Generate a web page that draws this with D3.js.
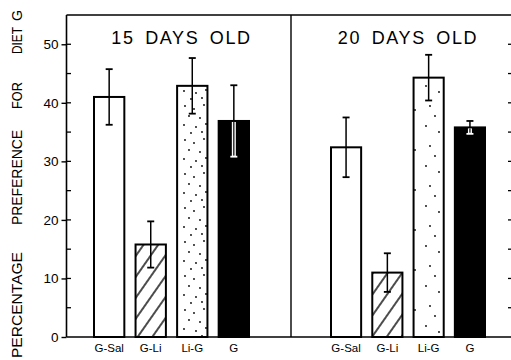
<!DOCTYPE html>
<html>
<head>
<meta charset="utf-8">
<script src="https://cdn.jsdelivr.net/npm/d3@7"></script>
<style>
  html, body { margin: 0; padding: 0; background: #fff; }
  svg { display: block; }
  text { font-family: "Liberation Sans", Arial, sans-serif; fill: #000; }
</style>
</head>
<body>
<svg id="chart" width="511" height="360"></svg>
<script>
// Diet groups and panel titles
const categories = ["G-Sal", "G-Li", "Li-G", "G"];
const panelTitles = ["15 DAYS OLD", "20 DAYS OLD"];

// Mean percentage preference for diet G and error-bar half widths
const means15 = [41.0, 15.8, 42.9, 36.9];
const errors15 = [4.75, 3.95, 4.75, 6.1];
const means20 = [32.4, 11.0, 44.3, 35.8];
const errors20 = [5.1, 3.3, 3.9, 1.1];

const majorTicks = [0, 10, 20, 30, 40, 50];
const minorTicks = [5, 10, 15, 20, 25, 30, 35, 40, 45, 50];
const yTitleWords = ["PERCENTAGE", "PREFERENCE", "FOR", "DIET", "G"];

const svg = d3.select("#chart");
const frame = { left: 66.5, right: 513, top: 15, bottom: 337, divider: 291 };

const y = d3.scaleLinear().domain([0, 55]).range([frame.bottom, frame.top]);

// Fill patterns: diagonal hatching and sparse stipple
const defs = svg.append("defs");
const hatch = defs.append("pattern")
  .attr("id", "hatch").attr("patternUnits", "userSpaceOnUse")
  .attr("width", 12).attr("height", 12)
  .attr("patternTransform", "rotate(35)");
hatch.append("rect").attr("width", 12).attr("height", 12).attr("fill", "#fff");
hatch.append("line").attr("x1", 6).attr("x2", 6).attr("y1", 0).attr("y2", 12)
  .attr("stroke", "#000").attr("stroke-width", 1.4);

function stipple(id, w, h, dots) {
  const p = defs.append("pattern").attr("id", id)
    .attr("patternUnits", "userSpaceOnUse").attr("width", w).attr("height", h);
  p.append("rect").attr("width", w).attr("height", h).attr("fill", "#fff");
  dots.forEach(([cx, cy]) => p.append("circle").attr("cx", cx).attr("cy", cy)
    .attr("r", 0.9).attr("fill", "#000"));
}
stipple("dots1", 30, 34, [[5,4],[14,7],[24,3],[9,14],[20,16],[4,23],[16,25],[26,22],[11,31],[22,30]]);
stipple("dots2", 30, 40, [[6,6],[19,12],[25,30],[10,26],[15,36]]);

const fills = [["#fff", "url(#hatch)", "url(#dots1)", "#000"],
               ["#fff", "url(#hatch)", "url(#dots2)", "#000"]];

const panels = [
  { title: panelTitles[0], means: means15, errors: errors15, range: [94, 249], titleX: 181.5 },
  { title: panelTitles[1], means: means20, errors: errors20, range: [331, 485], titleX: 408 }
];

// Frame: left axis, top, bottom, panel divider
const fr = svg.append("g").attr("stroke", "#000").attr("fill", "none");
fr.append("line").attr("x1", frame.left).attr("x2", frame.left)
  .attr("y1", frame.top).attr("y2", frame.bottom).attr("stroke-width", 1.6);
fr.append("line").attr("x1", frame.left).attr("x2", frame.right)
  .attr("y1", frame.top).attr("y2", frame.top).attr("stroke-width", 1.3);
fr.append("line").attr("x1", frame.left).attr("x2", frame.right)
  .attr("y1", frame.bottom).attr("y2", frame.bottom).attr("stroke-width", 1.6);
fr.append("line").attr("x1", frame.divider).attr("x2", frame.divider)
  .attr("y1", frame.top).attr("y2", frame.bottom).attr("stroke-width", 1.4);
fr.append("line").attr("x1", frame.right).attr("x2", frame.right)
  .attr("y1", frame.top).attr("y2", frame.bottom).attr("stroke-width", 1.6);

// Left axis with labelled major ticks
const yAxis = svg.append("g").attr("transform", `translate(${frame.left},0)`)
  .call(d3.axisLeft(y).tickValues(majorTicks).tickSize(5).tickPadding(3).tickFormat(d3.format("d")));
yAxis.select(".domain").remove();
yAxis.selectAll(".tick line").attr("stroke-width", 1.4);
yAxis.selectAll(".tick text").attr("font-size", 13.5).attr("font-family", "Liberation Sans, sans-serif");

// Inward minor ticks on the left and right edges
svg.append("g").selectAll("line").data(minorTicks).join("line")
  .attr("x1", frame.left).attr("x2", frame.left + 4.5)
  .attr("y1", d => y(d)).attr("y2", d => y(d))
  .attr("stroke", "#000").attr("stroke-width", 1.3);
svg.append("g").selectAll("line").data(minorTicks).join("line")
  .attr("x1", frame.right - 5).attr("x2", frame.right)
  .attr("y1", d => y(d)).attr("y2", d => y(d))
  .attr("stroke", "#000").attr("stroke-width", 1.3);

// Vertical axis title, one word at a time (start offset and length along the axis)
const yTitleStarts = [-358, -225, -109, -54, -21];
const yTitleLengths = [106, 95, 27, 27, 11];
const yTitle = svg.append("text").attr("transform", "rotate(-90)")
  .attr("y", 22).attr("font-size", 14.5);
yTitle.selectAll("tspan").data(yTitleWords).join("tspan")
  .attr("x", (d, i) => yTitleStarts[i])
  .attr("textLength", (d, i) => yTitleLengths[i])
  .attr("lengthAdjust", "spacingAndGlyphs")
  .text(d => d);

panels.forEach((p, pi) => {
  const x = d3.scaleBand().domain(categories).range(p.range)
    .paddingInner(0.27).paddingOuter(0);
  const g = svg.append("g");

  g.append("text").attr("x", p.titleX).attr("y", 43.5)
    .attr("text-anchor", "middle").attr("font-size", 18)
    .attr("letter-spacing", 1.6).attr("word-spacing", 4)
    .text(p.title);

  const rows = categories.map((c, i) => ({ c, i, m: p.means[i], e: p.errors[i] }));

  // Bars
  g.selectAll("rect.bar").data(rows).join("rect").attr("class", "bar")
    .attr("x", d => x(d.c)).attr("width", x.bandwidth())
    .attr("y", d => y(d.m)).attr("height", d => y(0) - y(d.m))
    .attr("fill", d => fills[pi][d.i])
    .attr("stroke", "#000").attr("stroke-width", 2);

  // Error bars: black above the bar top, white where they cross a black bar
  rows.forEach(d => {
    const cx = x(d.c) + x.bandwidth() / 2;
    const top = y(d.m + d.e), mid = y(d.m), bot = y(d.m - d.e);
    const dark = d.c === "G";
    g.append("line").attr("x1", cx).attr("x2", cx).attr("y1", top).attr("y2", mid)
      .attr("stroke", "#000").attr("stroke-width", 1.5);
    g.append("line").attr("x1", cx - 3.5).attr("x2", cx + 3.5).attr("y1", top).attr("y2", top)
      .attr("stroke", "#000").attr("stroke-width", 1.8);
    if (dark) {
      g.append("line").attr("x1", cx).attr("x2", cx).attr("y1", mid + 1).attr("y2", bot)
        .attr("stroke", "#fff").attr("stroke-width", 4);
      g.append("line").attr("x1", cx).attr("x2", cx).attr("y1", mid + 1).attr("y2", bot - 1)
        .attr("stroke", "#000").attr("stroke-width", 1.2);
      g.append("line").attr("x1", cx - 3.5).attr("x2", cx + 3.5).attr("y1", bot).attr("y2", bot)
        .attr("stroke", "#fff").attr("stroke-width", 1.8);
    } else {
      g.append("line").attr("x1", cx).attr("x2", cx).attr("y1", mid).attr("y2", bot)
        .attr("stroke", "#000").attr("stroke-width", 1.5);
      g.append("line").attr("x1", cx - 3.5).attr("x2", cx + 3.5).attr("y1", bot).attr("y2", bot)
        .attr("stroke", "#000").attr("stroke-width", 1.8);
    }
  });

  // Category labels under the bars
  g.selectAll("text.cat").data(rows).join("text").attr("class", "cat")
    .attr("x", d => x(d.c) + x.bandwidth() / 2).attr("y", 351.5)
    .attr("text-anchor", "middle").attr("font-size", 11.5)
    .text(d => d.c);
});
</script>
</body>
</html>
